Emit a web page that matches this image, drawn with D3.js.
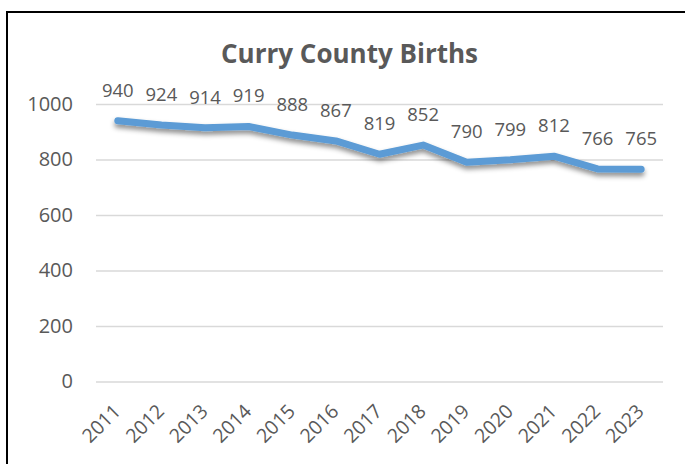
<!DOCTYPE html>
<html>
<head>
<meta charset="utf-8">
<script src="https://cdn.jsdelivr.net/npm/d3@7"></script>
<style>
  html, body { margin: 0; padding: 0; background: #fff; }
  svg { display: block; }
  text { font-family: "Open Sans", "Noto Sans", sans-serif; fill: #595959; }
</style>
</head>
<body>
<svg id="chart" width="685" height="464"></svg>
<script>
// Births per year, Curry County
const years = ["2011", "2012", "2013", "2014", "2015", "2016", "2017",
               "2018", "2019", "2020", "2021", "2022", "2023"];
const births = [940, 924, 914, 919, 888, 867, 819, 852, 790, 799, 812, 766, 765];
const yTicks = [0, 200, 400, 600, 800, 1000];
const title = "Curry County Births";

const svg = d3.select("#chart");
const W = 685, H = 464;

// chart frame (runs past the right and bottom edges of the view)
svg.append("rect")
  .attr("x", 7).attr("y", 12)
  .attr("width", W).attr("height", H)
  .attr("fill", "#fff")
  .attr("stroke", "#000").attr("stroke-width", 2);

const plot = { left: 96, right: 663, top: 104, bottom: 381.5 };

const x = d3.scaleBand()
  .domain(years)
  .range([plot.left, plot.right]);

const y = d3.scaleLinear()
  .domain([0, 1000])
  .range([plot.bottom, plot.top]);

// soft shadow under the line
const defs = svg.append("defs");
const f = defs.append("filter").attr("id", "shadow")
  .attr("x", "-10%").attr("y", "-50%").attr("width", "120%").attr("height", "200%");
f.append("feDropShadow")
  .attr("dx", 0).attr("dy", 3.5)
  .attr("stdDeviation", 2.5)
  .attr("flood-color", "#000").attr("flood-opacity", 0.45);

// title
svg.append("text")
  .attr("x", 349.5).attr("y", 63)
  .attr("text-anchor", "middle")
  .style("font-size", "26px")
  .style("font-weight", "bold")
  .text(title);

// horizontal gridlines + y labels
const yAxis = d3.axisLeft(y)
  .tickValues(yTicks)
  .tickFormat(d3.format("d"))
  .tickSize(-(plot.right - plot.left))
  .tickPadding(23);
const gy = svg.append("g")
  .attr("transform", `translate(${plot.left},0)`)
  .call(yAxis);
gy.select(".domain").remove();
gy.selectAll(".tick line").attr("stroke", "#d9d9d9").attr("stroke-width", 1.5);
gy.selectAll(".tick text")
  .style("font-size", "20px")
  .style("font-family", "'Open Sans', sans-serif")
  .attr("fill", "#595959");

// x labels, rotated
const xAxis = d3.axisBottom(x).tickSize(0).tickPadding(0);
const gx = svg.append("g")
  .attr("transform", `translate(0,${plot.bottom})`)
  .call(xAxis);
gx.select(".domain").remove();
gx.selectAll(".tick text")
  .attr("text-anchor", "end")
  .attr("dy", null)
  .attr("y", null)
  .attr("transform", "translate(4,31) rotate(-45)")
  .style("font-size", "19.5px")
  .style("font-family", "'Open Sans', sans-serif")
  .attr("fill", "#595959");

// the series line
const cx = d => x(d) + x.bandwidth() / 2;
const line = d3.line()
  .x((d, i) => cx(years[i]))
  .y(d => y(d));

svg.append("path")
  .datum(births)
  .attr("d", line)
  .attr("fill", "none")
  .attr("stroke", "#5b9bd5")
  .attr("stroke-width", 7)
  .attr("stroke-linecap", "round")
  .attr("stroke-linejoin", "round")
  .attr("filter", "url(#shadow)");

// value labels above each point
svg.append("g").selectAll("text")
  .data(births)
  .join("text")
  .attr("x", (d, i) => cx(years[i]))
  .attr("y", d => y(d) - 24)
  .attr("text-anchor", "middle")
  .style("font-size", "18.5px")
  .text(d => d);
</script>
</body>
</html>
